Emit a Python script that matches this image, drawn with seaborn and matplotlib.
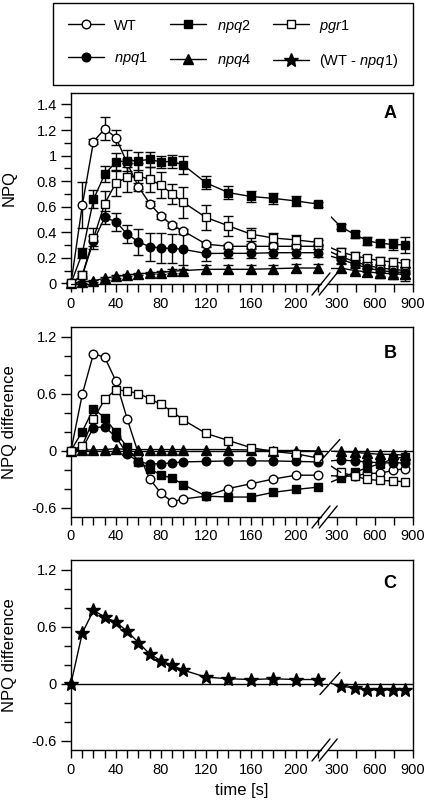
import numpy as np
import matplotlib
matplotlib.use("Agg")
import matplotlib.pyplot as plt
import seaborn as sns
from matplotlib.lines import Line2D
from matplotlib.patches import Rectangle
from matplotlib.ticker import FixedLocator, FuncFormatter

sns.set_theme(style="ticks", rc={
    "axes.edgecolor": "black", "xtick.color": "black", "ytick.color": "black",
    "text.color": "black", "axes.labelcolor": "black", "axes.linewidth": 1.0,
})
plt.rcParams["font.family"] = ["Liberation Sans", "DejaVu Sans"]
plt.rcParams["mathtext.fontset"] = "custom"
plt.rcParams["mathtext.rm"] = "Liberation Sans"
plt.rcParams["mathtext.it"] = "Liberation Sans:italic"
plt.rcParams["axes.unicode_minus"] = False

# ---------------- data ----------------
time = np.array([0, 10, 20, 30, 40, 50, 60, 70, 80, 90, 100, 120, 140, 160, 180, 200, 220,
                 330, 440, 540, 640, 740, 840])

# Panel A: NPQ
A_WT = [0, 0.61, 1.11, 1.21, 1.14, 0.94, 0.755, 0.625, 0.526, 0.456, 0.409, 0.307, 0.29, 0.29, 0.29, 0.29, 0.29,
        0.21, 0.17, 0.14, 0.12, 0.11, 0.10]
A_WT_err = [0, 0.18, 0.02, 0.09, 0.06, 0.03, 0.03, 0.02, 0.02, 0.02, 0.02, 0.02, 0.02, 0.02, 0.02, 0.02, 0.02,
            0.03, 0.03, 0.03, 0.03, 0.03, 0.03]
A_npq1 = [0, 0.06, 0.33, 0.516, 0.482, 0.385, 0.325, 0.286, 0.278, 0.273, 0.266, 0.234, 0.235, 0.235, 0.24, 0.24, 0.24,
          0.19, 0.15, 0.12, 0.10, 0.09, 0.085]
A_npq1_err = [0, 0.02, 0.04, 0.05, 0.07, 0.07, 0.10, 0.11, 0.12, 0.11, 0.12, 0.06, 0.04, 0.04, 0.04, 0.04, 0.03,
              0.03, 0.03, 0.03, 0.04, 0.04, 0.04]
A_npq2 = [0, 0.235, 0.657, 0.855, 0.95, 0.96, 0.96, 0.97, 0.95, 0.955, 0.925, 0.787, 0.71, 0.68, 0.665, 0.645, 0.62,
          0.443, 0.383, 0.334, 0.313, 0.305, 0.30]
A_npq2_err = [0, 0.04, 0.07, 0.06, 0.07, 0.08, 0.07, 0.06, 0.05, 0.05, 0.07, 0.05, 0.05, 0.04, 0.04, 0.04, 0.02,
              0.02, 0.03, 0.03, 0.03, 0.04, 0.06]
A_npq4 = [0, 0.01, 0.02, 0.04, 0.055, 0.065, 0.075, 0.08, 0.085, 0.095, 0.10, 0.11, 0.11, 0.11, 0.115, 0.12, 0.12,
          0.12, 0.10, 0.09, 0.08, 0.075, 0.07]
A_npq4_err = [0, 0.01, 0.01, 0.01, 0.01, 0.01, 0.01, 0.01, 0.01, 0.015, 0.015, 0.03, 0.03, 0.03, 0.03, 0.03, 0.03,
              0.03, 0.03, 0.03, 0.04, 0.04, 0.05]
A_pgr1 = [0, 0.065, 0.352, 0.625, 0.787, 0.829, 0.84, 0.813, 0.769, 0.70, 0.633, 0.516, 0.45, 0.385, 0.355, 0.34, 0.32,
          0.245, 0.215, 0.195, 0.177, 0.168, 0.156]
A_pgr1_err = [0, 0.03, 0.08, 0.10, 0.10, 0.11, 0.10, 0.10, 0.10, 0.08, 0.12, 0.10, 0.08, 0.05, 0.04, 0.04, 0.02,
              0.03, 0.03, 0.03, 0.03, 0.03, 0.03]

# Panel B: NPQ difference
B_WT = [0, 0.59, 1.02, 0.98, 0.73, 0.33, -0.035, -0.30, -0.45, -0.54, -0.51, -0.48, -0.40, -0.35, -0.30, -0.26, -0.26,
        -0.27, -0.27, -0.24, -0.24, -0.21, -0.19]
B_npq1 = [0, 0.02, 0.24, 0.25, 0.14, -0.035, -0.12, -0.14, -0.14, -0.13, -0.12, -0.115, -0.11, -0.11, -0.11, -0.115, -0.12,
          -0.10, -0.11, -0.12, -0.13, -0.13, -0.13]
B_npq2 = [0, 0.20, 0.44, 0.345, 0.19, 0.035, -0.12, -0.19, -0.26, -0.29, -0.36, -0.48, -0.49, -0.49, -0.44, -0.41, -0.385,
          -0.29, -0.23, -0.18, -0.14, -0.09, -0.065]
B_npq4 = [0, 0.005, 0.005, 0.01, 0.02, 0.01, 0.01, 0.01, 0.01, 0.01, 0.01, 0.01, 0.01, 0.005, 0.0, 0.0, -0.005,
          -0.01, -0.02, -0.03, -0.04, -0.04, -0.05]
B_pgr1 = [0, 0.05, 0.33, 0.54, 0.64, 0.625, 0.60, 0.545, 0.485, 0.41, 0.32, 0.18, 0.105, 0.03, -0.01, -0.035, -0.08,
          -0.23, -0.27, -0.305, -0.315, -0.32, -0.33]

# Panel C: WT - npq1
C_diff = [0, 0.53, 0.77, 0.70, 0.645, 0.55, 0.43, 0.31, 0.24, 0.19, 0.14, 0.067, 0.05, 0.042, 0.05, 0.042, 0.042,
          -0.03, -0.045, -0.067, -0.067, -0.067, -0.067]

legend_labels = ["WT", "$\\mathit{npq1}$", "$\\mathit{npq2}$", "$\\mathit{npq4}$", "$\\mathit{pgr1}$",
                 "(WT - $\\mathit{npq1}$)"]
x_major = [0, 40, 80, 120, 160, 200, 300, 600, 900]
x_minor = [10, 20, 30, 50, 60, 70, 90, 100, 110, 130, 140, 150, 170, 180, 190, 210, 220, 450, 750]

# ---------------- broken time scale ----------------
K = (304.0 - 236.4) / 600.0


def fwd(t):
    t = np.asarray(t, dtype=float)
    return np.where(t <= 225, t,
                    np.where(t < 300, 225 + (t - 225) * (11.4 / 75.0), 236.4 + (t - 300) * K))


def inv(x):
    x = np.asarray(x, dtype=float)
    return np.where(x <= 225, x,
                    np.where(x < 236.4, 225 + (x - 225) * (75.0 / 11.4), 300 + (x - 236.4) / K))


LEFT = time <= 220
RIGHT = time >= 300
BRIDGE = [16, 17]

styles = {
    "WT": dict(marker="o", markerfacecolor="white", markersize=6.2),
    "npq1": dict(marker="o", markerfacecolor="black", markersize=6.2),
    "npq2": dict(marker="s", markerfacecolor="black", markersize=6.0),
    "npq4": dict(marker="^", markerfacecolor="black", markersize=6.8),
    "pgr1": dict(marker="s", markerfacecolor="white", markersize=6.0),
    "diff": dict(marker="*", markerfacecolor="black", markersize=10.5),
}

fig = plt.figure(figsize=(4.27, 8.08), dpi=100)
W = 427.0
H = 808.0
axL, axR = 71 / W, 413 / W
axA = fig.add_axes([axL, 1 - 284 / H, axR - axL, 191 / H])
axB = fig.add_axes([axL, 1 - 517 / H, axR - axL, 190 / H])
axC = fig.add_axes([axL, 1 - 750 / H, axR - axL, 190 / H])

for ax in (axA, axB, axC):
    ax.set_xscale("function", functions=(fwd, inv))


def draw_series(ax, y, err, style, z):
    y = np.asarray(y, dtype=float)
    st = styles[style]
    for mask in (LEFT, RIGHT):
        sns.lineplot(x=time[mask], y=y[mask], ax=ax, color="black", lw=1.0, sort=False, legend=False,
                     marker=st["marker"], markersize=st["markersize"], markerfacecolor=st["markerfacecolor"],
                     markeredgecolor="black", markeredgewidth=1.0, zorder=z, clip_on=False)
    bridge = ax.plot(time[BRIDGE], y[BRIDGE], color="black", lw=1.0, zorder=z)[0]
    bridge.set_clip_path(Rectangle((0.760, 0), 0.25, 1, transform=ax.transAxes))
    if err is not None:
        ax.errorbar(time, y, yerr=err, fmt="none", ecolor="black", elinewidth=1.0, capsize=3.6,
                    capthick=1.0, zorder=z - 0.5)


# Panel A
draw_series(axA, A_WT, A_WT_err, "WT", 3)
draw_series(axA, A_npq1, A_npq1_err, "npq1", 3.1)
draw_series(axA, A_npq4, A_npq4_err, "npq4", 3.2)
draw_series(axA, A_npq2, A_npq2_err, "npq2", 3.3)
draw_series(axA, A_pgr1, A_pgr1_err, "pgr1", 3.4)

# Panel B
draw_series(axB, B_WT, None, "WT", 3)
draw_series(axB, B_npq1, None, "npq1", 3.1)
draw_series(axB, B_npq4, None, "npq4", 3.2)
draw_series(axB, B_npq2, None, "npq2", 3.3)
draw_series(axB, B_pgr1, None, "pgr1", 3.4)

# Panel C
draw_series(axC, C_diff, None, "diff", 3)

fmt = FuncFormatter(lambda v, p: f"{v:g}")
for ax in (axA, axB, axC):
    ax.set_xlim(0, 900)
    ax.xaxis.set_major_locator(FixedLocator(x_major))
    ax.xaxis.set_minor_locator(FixedLocator(x_minor))
    ax.xaxis.set_major_formatter(FuncFormatter(lambda v, p: f"{v:g}"))
    ax.tick_params(axis="x", which="both", length=6, width=1.0, direction="out", labelsize=10.5, pad=3)
    ax.tick_params(axis="y", which="major", length=7, width=1.0, direction="out", labelsize=10.5, pad=3)
    ax.tick_params(axis="y", which="minor", length=5, width=1.0, direction="out")
    ax.yaxis.set_major_formatter(fmt)
    ax.set_xlabel("")

axA.set_ylim(-0.005, 1.49)
axA.yaxis.set_major_locator(FixedLocator(np.round(np.arange(0, 1.41, 0.2), 2)))
axA.yaxis.set_minor_locator(FixedLocator(np.round(np.arange(0.1, 1.41, 0.2), 2)))
for ax in (axB, axC):
    ax.set_ylim(-0.7, 1.3)
    ax.yaxis.set_major_locator(FixedLocator([-0.6, 0, 0.6, 1.2]))
    ax.yaxis.set_minor_locator(FixedLocator([-0.4, -0.2, 0.2, 0.4, 0.8, 1.0]))
    ax.axhline(0, xmin=0, xmax=0.749, color="black", lw=1.0, zorder=1)
    ax.axhline(0, xmin=0.769, xmax=1, color="black", lw=1.0, zorder=1)

axA.set_ylabel("NPQ", fontsize=12)
axB.set_ylabel("NPQ difference", fontsize=12)
axC.set_ylabel("NPQ difference", fontsize=12)
for ax in (axA, axB, axC):
    ax.yaxis.set_label_coords(-0.158, 0.5)
axC.set_xlabel("time [s]", fontsize=12, labelpad=5)


def add_breaks(ax, zero_frac=None):
    ax.spines["bottom"].set_visible(False)
    kw = dict(transform=ax.transAxes, color="black", lw=1.0, clip_on=False, zorder=6)
    ax.plot([0, 0.731], [0, 0], **kw)
    ax.plot([0.752, 1], [0, 0], **kw)
    for xc in (0.731, 0.752):
        ax.plot([xc - 0.0263, xc + 0.0263], [-0.058, 0.058], **kw)
    if zero_frac is not None:
        ax.plot([0.757 - 0.029, 0.757 + 0.029], [zero_frac - 0.058, zero_frac + 0.058], **kw)


add_breaks(axA)
add_breaks(axB, 0.35)
add_breaks(axC, 0.35)

axA.text((390 - 71) / 342, (284 - 113.5) / 191, "A", transform=axA.transAxes, fontsize=13,
         fontweight="bold", ha="center", va="center")
axB.text((390 - 71) / 342, (517 - 353) / 190, "B", transform=axB.transAxes, fontsize=13,
         fontweight="bold", ha="center", va="center")
axC.text((390 - 71) / 342, (750 - 583) / 190, "C", transform=axC.transAxes, fontsize=13,
         fontweight="bold", ha="center", va="center")

handles = []
for key in ("WT", "npq1", "npq2", "npq4", "pgr1", "diff"):
    st = styles[key]
    handles.append(Line2D([0], [0], color="black", lw=1.0, marker=st["marker"], markersize=st["markersize"],
                          markerfacecolor=st["markerfacecolor"], markeredgecolor="black", markeredgewidth=1.0))
leg = fig.legend(handles, legend_labels, loc="upper left", bbox_to_anchor=(53 / W, 1 - 3 / H, 360 / W, 0),
                 mode="expand", ncol=3, frameon=True, fancybox=False, edgecolor="black", framealpha=1,
                 fontsize=10.5, handlelength=2.5, handletextpad=0.7, borderpad=1.0, labelspacing=1.2,
                 borderaxespad=0)
leg.get_frame().set_linewidth(1.0)

fig.savefig("out.png", dpi=100)
